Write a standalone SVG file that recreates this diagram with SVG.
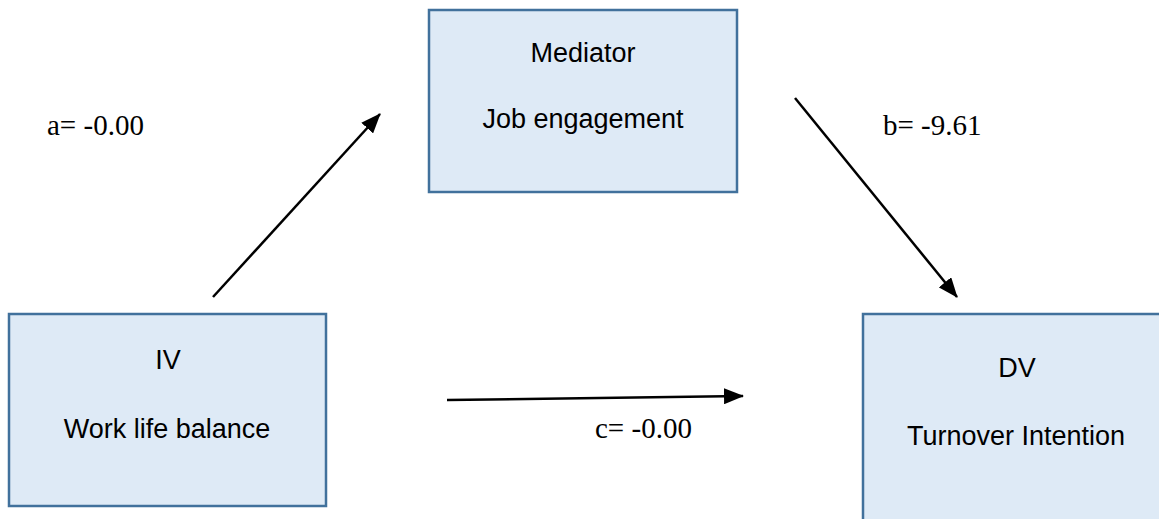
<svg xmlns="http://www.w3.org/2000/svg" width="1159" height="519" viewBox="0 0 1159 519">
<style>
.box{fill:#DEEAF6;stroke:#41719C;stroke-width:2.5}
.lbl{font-family:"Liberation Sans",Arial,sans-serif;font-size:27px;fill:#000;text-anchor:middle}
.coef{font-family:"Liberation Serif","Times New Roman",serif;font-size:29px;fill:#000}
.conn{stroke:#000;stroke-width:2.5;fill:none}
</style>
<defs>
<marker id="ah" markerUnits="userSpaceOnUse" markerWidth="20" markerHeight="16" refX="19" refY="8" orient="auto">
<path d="M0,0 L20,8 L0,16 Z" fill="#000"/>
</marker>
</defs>
<rect width="1159" height="519" fill="#fff"/>
<g id="mediator">
<rect class="box" x="429" y="10" width="308" height="182"/>
<text class="lbl" x="583" y="62">Mediator</text>
<text class="lbl" x="583" y="128">Job engagement</text>
</g>
<g id="iv">
<rect class="box" x="9" y="314" width="317" height="192"/>
<text class="lbl" x="168" y="369">IV</text>
<text class="lbl" x="167" y="438">Work life balance</text>
</g>
<g id="dv">
<rect class="box" x="863" y="314" width="310" height="215"/>
<text class="lbl" x="1017" y="377">DV</text>
<text class="lbl" x="1016" y="445">Turnover Intention</text>
</g>
<g id="connectors">
<line class="conn" x1="213" y1="297" x2="380" y2="114" marker-end="url(#ah)"/>
<line class="conn" x1="795" y1="98" x2="957" y2="297" marker-end="url(#ah)"/>
<line class="conn" x1="447" y1="400" x2="743" y2="396" marker-end="url(#ah)"/>
</g>
<g id="labels">
<text class="coef" x="47" y="135">a= -0.00</text>
<text class="coef" x="883" y="135">b= -9.61</text>
<text class="coef" x="595" y="438">c= -0.00</text>
</g>
</svg>
